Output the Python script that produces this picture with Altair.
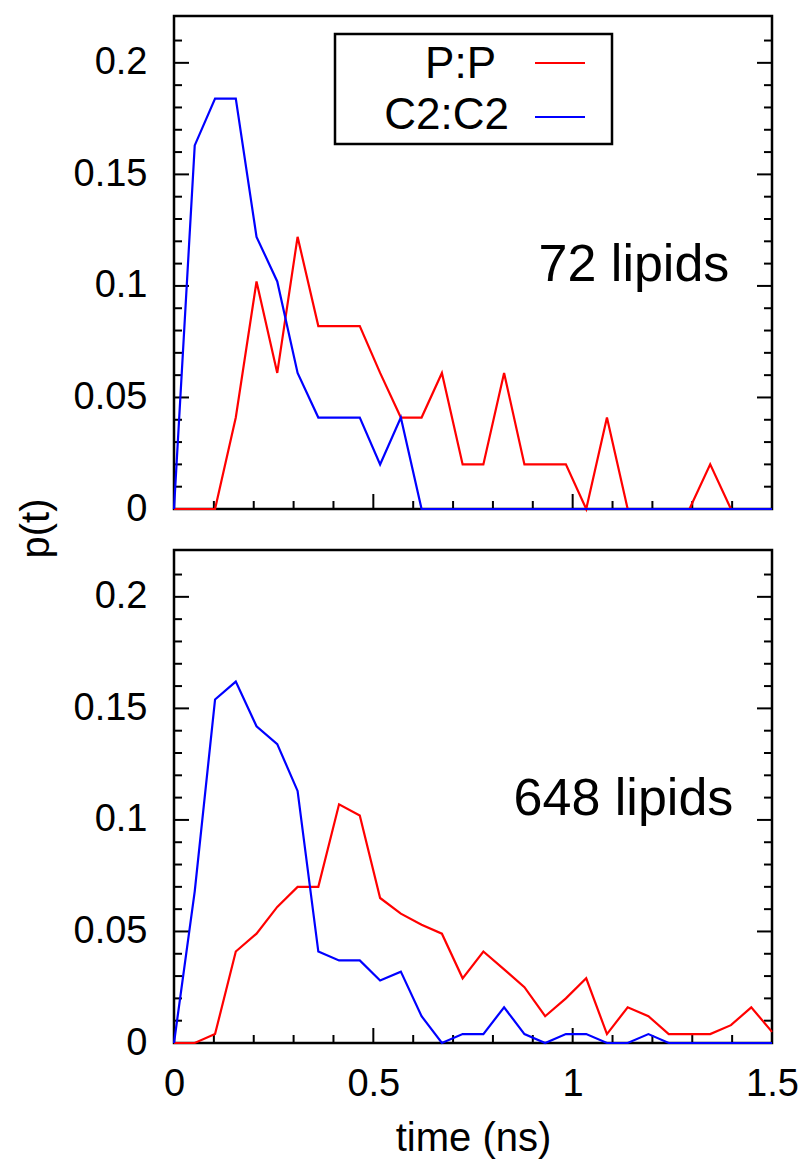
import altair as alt
import pandas as pd

# ---------------- data ----------------
time_ns = [0.0, 0.052, 0.103, 0.155, 0.207, 0.259, 0.31, 0.362, 0.414, 0.466,
           0.517, 0.569, 0.621, 0.672, 0.724, 0.776, 0.828, 0.879, 0.931, 0.983,
           1.034, 1.086, 1.138, 1.19, 1.241, 1.293, 1.345, 1.397, 1.448, 1.5]

pp_72 = [0, 0, 0, 0.041, 0.102, 0.061, 0.122, 0.082, 0.082, 0.082,
         0.061, 0.041, 0.041, 0.061, 0.020, 0.020, 0.061, 0.020, 0.020, 0.020,
         0, 0.041, 0, 0, 0, 0, 0.020, 0, 0, 0]
cc_72 = [0, 0.163, 0.184, 0.184, 0.122, 0.102, 0.061, 0.041, 0.041, 0.041,
         0.020, 0.041, 0, 0, 0, 0, 0, 0, 0, 0,
         0, 0, 0, 0, 0, 0, 0, 0, 0, 0]

pp_648 = [0, 0, 0.004, 0.041, 0.049, 0.061, 0.070, 0.070, 0.107, 0.102,
          0.065, 0.058, 0.053, 0.049, 0.029, 0.041, 0.033, 0.025, 0.012, 0.020,
          0.029, 0.004, 0.016, 0.012, 0.004, 0.004, 0.004, 0.008, 0.016, 0.005]
cc_648 = [0, 0.068, 0.154, 0.162, 0.142, 0.134, 0.113, 0.041, 0.037, 0.037,
          0.028, 0.032, 0.012, 0, 0.004, 0.004, 0.016, 0.004, 0, 0.004,
          0.004, 0, 0, 0.004, 0, 0, 0, 0, 0, 0]

series_names = ["P:P", "C2:C2"]
series_colors = ["#ff0000", "#0000ff"]
panel_labels = ["72 lipids", "648 lipids"]

y_major = [0, 0.05, 0.1, 0.15, 0.2]
y_minor = [0.01, 0.02, 0.03, 0.04, 0.06, 0.07, 0.08, 0.09, 0.11, 0.12, 0.13,
           0.14, 0.16, 0.17, 0.18, 0.19, 0.21]
x_major = [0, 0.5, 1, 1.5]
x_minor = [0.1, 0.2, 0.3, 0.4, 0.6, 0.7, 0.8, 0.9, 1.1, 1.2, 1.3, 1.4]

# ---------------- layout / style ----------------
FONT = "Liberation Sans"
W, H = 598, 493
Y_MAX = 0.221
MAJ, MIN = 15, 8

xs = alt.Scale(domain=[0, 1.5], nice=False, zero=False)
ys = alt.Scale(domain=[0, Y_MAX], nice=False)


def make_axes(is_top):
    yargs = dict(values=y_major, format="~g", ticks=False, tickSize=0, domain=False,
                 grid=False, labelFontSize=38, labelFont=FONT, labelColor="black",
                 labelPadding=27, labelFlush=False)
    if is_top:
        yaxis = alt.Axis(title="p(t)", titleFont=FONT, titleFontSize=40,
                         titleFontWeight="normal", titleColor="black", titleAngle=270,
                         titleX=-138, titleY=512, titleAlign="center",
                         titleBaseline="middle", **yargs)
        xaxis = alt.Axis(labels=False, ticks=False, domain=False, grid=False, title=None)
    else:
        yaxis = alt.Axis(title=None, **yargs)
        xaxis = alt.Axis(values=x_major, format="~g", ticks=False, tickSize=0,
                         domain=False, grid=False, labelFontSize=38, labelFont=FONT,
                         labelColor="black", labelPadding=22, labelFlush=False,
                         title="time (ns)", titleFont=FONT, titleFontSize=40,
                         titleFontWeight="normal", titleColor="black",
                         titleY=95, titleBaseline="middle")
    return xaxis, yaxis


def panel(pp, cc, label, label_t, label_p, is_top):
    xaxis, yaxis = make_axes(is_top)
    X = lambda: alt.X("time:Q", scale=xs, axis=xaxis)
    Y = lambda: alt.Y("p:Q", scale=ys, axis=yaxis)

    layers = []
    # inward ticks on left and right
    for vals, ln in ((y_major, MAJ), (y_minor, MIN)):
        d = pd.DataFrame({"p": vals})
        layers.append(alt.Chart(d).mark_rule(color="black", strokeWidth=2).encode(
            y=Y(), x=alt.value(0), x2=alt.value(ln)))
        layers.append(alt.Chart(d).mark_rule(color="black", strokeWidth=2).encode(
            y=Y(), x=alt.value(W), x2=alt.value(W - ln)))
    # inward ticks on bottom
    for vals, ln in ((x_major[1:-1], MAJ), (x_minor, MIN)):
        d = pd.DataFrame({"time": vals})
        layers.append(alt.Chart(d).mark_rule(color="black", strokeWidth=2).encode(
            x=X(), y=alt.value(H), y2=alt.value(H - ln)))

    # data lines
    for vals, name, col in ((pp, series_names[0], series_colors[0]),
                            (cc, series_names[1], series_colors[1])):
        d = pd.DataFrame({"time": time_ns, "p": vals, "series": name})
        layers.append(alt.Chart(d).mark_line(color=col, strokeWidth=2.2).encode(
            x=X(), y=Y()))

    # panel annotation
    d = pd.DataFrame({"time": [label_t], "p": [label_p], "label": [label]})
    layers.append(alt.Chart(d).mark_text(
        align="right", baseline="alphabetic", font=FONT, fontSize=52, color="black"
    ).encode(x=X(), y=Y(), text="label:N"))

    if is_top:
        one = pd.DataFrame({"k": [0]})
        layers.append(alt.Chart(one).mark_rect(
            fillOpacity=0, stroke="black", strokeWidth=2.5
        ).encode(x=alt.value(161), x2=alt.value(438), y=alt.value(18), y2=alt.value(128)))
        for name, col, tx, ty, ly in ((series_names[0], series_colors[0], 322, 62, 47),
                                      (series_names[1], series_colors[1], 335, 113, 101)):
            layers.append(alt.Chart(one).mark_text(
                align="right", baseline="alphabetic", font=FONT, fontSize=44, color="black"
            ).encode(x=alt.value(tx), y=alt.value(ty), text=alt.value(name)))
            layers.append(alt.Chart(one).mark_rule(color=col, strokeWidth=2.2).encode(
                x=alt.value(361), x2=alt.value(411), y=alt.value(ly)))

    return alt.layer(*layers).properties(width=W, height=H)


top = panel(pp_72, cc_72, panel_labels[0], 1.393, 0.102, True)
bottom = panel(pp_648, cc_648, panel_labels[1], 1.403, 0.102, False)

chart = alt.vconcat(top, bottom, spacing=41, bounds="flush").properties(
    padding={"left": 14, "top": 14, "right": 5, "bottom": 0},
    background="white",
).configure_view(stroke="black", strokeWidth=2.5)

chart.save("out.html", embed_options={"renderer": "svg", "actions": False})
